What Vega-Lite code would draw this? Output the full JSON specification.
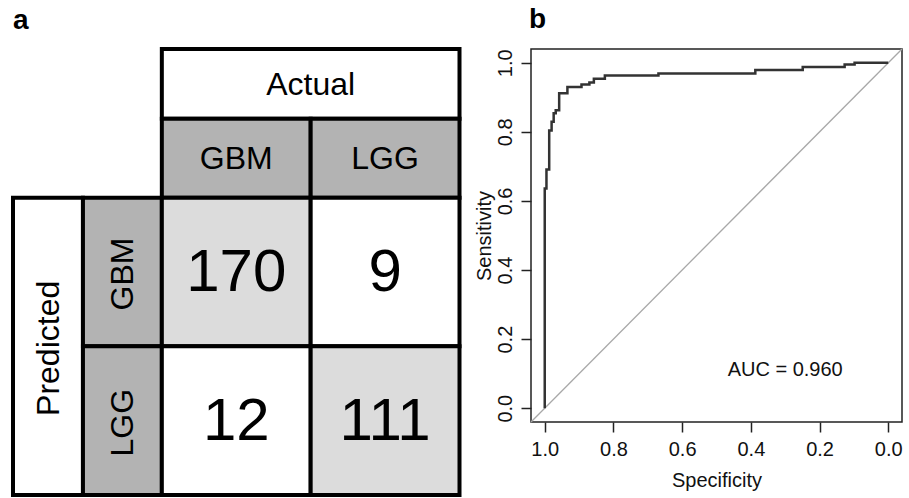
{
  "$schema": "https://vega.github.io/schema/vega-lite/v6.json",
  "padding": {"left": 11, "top": 5, "right": 0, "bottom": 0},
  "spacing": 11,
  "background": "white",
  "config": {
    "font": "Liberation Sans",
    "view": {"stroke": "#222", "strokeWidth": 1.5},
    "axis": {
      "grid": false, "domain": false,
      "labelColor": "#111", "tickColor": "#222", "titleColor": "#111",
      "labelFont": "Liberation Sans", "titleFont": "Liberation Sans",
      "labelFontSize": 20, "titleFontSize": 20, "titleFontWeight": "normal",
      "tickSize": 10, "tickWidth": 1.5, "labelFlush": false, "labelOverlap": false
    },
    "title": {"font": "Liberation Sans", "fontSize": 28, "fontWeight": "bold", "anchor": "start", "color": "#000", "frame": "group"}
  },
  "datasets": {
    "table": [
      {"id": "actual", "side": "actual", "role": "title", "label": "Actual", "c0": 1, "c1": 3, "r0": 0, "r1": 0.47},
      {"id": "act_gbm", "side": "actual", "role": "header", "label": "GBM", "c0": 1, "c1": 2, "r0": 0.47, "r1": 1},
      {"id": "act_lgg", "side": "actual", "role": "header", "label": "LGG", "c0": 2, "c1": 3, "r0": 0.47, "r1": 1},
      {"id": "predicted", "side": "predicted", "role": "title", "label": "Predicted", "c0": 0, "c1": 0.47, "r0": 1, "r1": 3},
      {"id": "pred_gbm", "side": "predicted", "role": "header", "label": "GBM", "c0": 0.47, "c1": 1, "r0": 1, "r1": 2},
      {"id": "pred_lgg", "side": "predicted", "role": "header", "label": "LGG", "c0": 0.47, "c1": 1, "r0": 2, "r1": 3},
      {"id": "gbm_gbm", "side": "cell", "role": "hit", "predicted": "GBM", "actual": "GBM", "n": 170, "c0": 1, "c1": 2, "r0": 1, "r1": 2},
      {"id": "gbm_lgg", "side": "cell", "role": "miss", "predicted": "GBM", "actual": "LGG", "n": 9, "c0": 2, "c1": 3, "r0": 1, "r1": 2},
      {"id": "lgg_gbm", "side": "cell", "role": "miss", "predicted": "LGG", "actual": "GBM", "n": 12, "c0": 1, "c1": 2, "r0": 2, "r1": 3},
      {"id": "lgg_lgg", "side": "cell", "role": "hit", "predicted": "LGG", "actual": "LGG", "n": 111, "c0": 2, "c1": 3, "r0": 2, "r1": 3}
    ],
    "roc": [
      {"i": 0, "specificity": 1.0, "sensitivity": 0.0},
      {"i": 1, "specificity": 1.0, "sensitivity": 0.636},
      {"i": 2, "specificity": 0.995, "sensitivity": 0.636},
      {"i": 3, "specificity": 0.995, "sensitivity": 0.691},
      {"i": 4, "specificity": 0.987, "sensitivity": 0.691},
      {"i": 5, "specificity": 0.987, "sensitivity": 0.804},
      {"i": 6, "specificity": 0.980, "sensitivity": 0.804},
      {"i": 7, "specificity": 0.980, "sensitivity": 0.829},
      {"i": 8, "specificity": 0.974, "sensitivity": 0.829},
      {"i": 9, "specificity": 0.974, "sensitivity": 0.854},
      {"i": 10, "specificity": 0.968, "sensitivity": 0.854},
      {"i": 11, "specificity": 0.968, "sensitivity": 0.863},
      {"i": 12, "specificity": 0.958, "sensitivity": 0.863},
      {"i": 13, "specificity": 0.958, "sensitivity": 0.912},
      {"i": 14, "specificity": 0.934, "sensitivity": 0.912},
      {"i": 15, "specificity": 0.934, "sensitivity": 0.930},
      {"i": 16, "specificity": 0.893, "sensitivity": 0.930},
      {"i": 17, "specificity": 0.893, "sensitivity": 0.937},
      {"i": 18, "specificity": 0.870, "sensitivity": 0.937},
      {"i": 19, "specificity": 0.870, "sensitivity": 0.943},
      {"i": 20, "specificity": 0.857, "sensitivity": 0.943},
      {"i": 21, "specificity": 0.857, "sensitivity": 0.954},
      {"i": 22, "specificity": 0.825, "sensitivity": 0.954},
      {"i": 23, "specificity": 0.825, "sensitivity": 0.963},
      {"i": 24, "specificity": 0.669, "sensitivity": 0.963},
      {"i": 25, "specificity": 0.669, "sensitivity": 0.969},
      {"i": 26, "specificity": 0.387, "sensitivity": 0.969},
      {"i": 27, "specificity": 0.387, "sensitivity": 0.979},
      {"i": 28, "specificity": 0.249, "sensitivity": 0.979},
      {"i": 29, "specificity": 0.249, "sensitivity": 0.988},
      {"i": 30, "specificity": 0.127, "sensitivity": 0.988},
      {"i": 31, "specificity": 0.127, "sensitivity": 0.995},
      {"i": 32, "specificity": 0.098, "sensitivity": 0.995},
      {"i": 33, "specificity": 0.098, "sensitivity": 1.0},
      {"i": 34, "specificity": 0.0, "sensitivity": 1.0}
    ],
    "diag": [
      {"specificity": 1.04, "sensitivity": -0.04},
      {"specificity": -0.04, "sensitivity": 1.04}
    ],
    "auc": [
      {"specificity": 0.3, "sensitivity": 0.11, "label": "AUC = 0.960"}
    ]
  },
  "hconcat": [
    {
      "width": 446.5,
      "height": 446,
      "view": {"stroke": null},
      "title": {"text": "a", "offset": -10, "baseline": "alphabetic"},
      "data": {"name": "table"},
      "layer": [
        {
          "mark": {"type": "rect", "stroke": "#000", "strokeWidth": 4},
          "encoding": {
            "x": {"field": "c0", "type": "quantitative", "scale": {"domain": [0, 3], "nice": false, "zero": false}, "axis": null},
            "x2": {"field": "c1"},
            "y": {"field": "r0", "type": "quantitative", "scale": {"domain": [0, 3], "reverse": true, "nice": false, "zero": false}, "axis": null},
            "y2": {"field": "r1"},
            "color": {"field": "role", "type": "nominal", "scale": {"domain": ["title", "header", "hit", "miss"], "range": ["#ffffff", "#b3b3b3", "#dcdcdc", "#ffffff"]}, "legend": null}
          }
        },
        {
          "transform": [
            {"filter": "datum.side === 'actual'"},
            {"fold": ["c0", "c1"], "as": ["ek", "ex"]},
            {"fold": ["r0", "r1"], "as": ["fk", "fy"]}
          ],
          "mark": {"type": "text", "fontSize": 32, "color": "#000", "align": "center", "baseline": "middle", "dy": 1},
          "encoding": {
            "x": {"aggregate": "mean", "field": "ex", "type": "quantitative"},
            "y": {"aggregate": "mean", "field": "fy", "type": "quantitative"},
            "text": {"field": "label"},
            "detail": {"field": "id"}
          }
        },
        {
          "transform": [
            {"filter": "datum.side === 'predicted'"},
            {"fold": ["c0", "c1"], "as": ["ek", "ex"]},
            {"fold": ["r0", "r1"], "as": ["fk", "fy"]}
          ],
          "mark": {"type": "text", "fontSize": 32, "color": "#000", "align": "center", "baseline": "middle", "angle": 270, "dx": -2, "dy": 1},
          "encoding": {
            "x": {"aggregate": "mean", "field": "ex", "type": "quantitative"},
            "y": {"aggregate": "mean", "field": "fy", "type": "quantitative"},
            "text": {"field": "label"},
            "detail": {"field": "id"}
          }
        },
        {
          "transform": [
            {"filter": "datum.side === 'cell'"},
            {"fold": ["c0", "c1"], "as": ["ek", "ex"]},
            {"fold": ["r0", "r1"], "as": ["fk", "fy"]}
          ],
          "mark": {"type": "text", "fontSize": 60, "color": "#000", "align": "center", "baseline": "middle", "dy": 1},
          "encoding": {
            "x": {"aggregate": "mean", "field": "ex", "type": "quantitative"},
            "y": {"aggregate": "mean", "field": "fy", "type": "quantitative"},
            "text": {"field": "n", "type": "quantitative"},
            "detail": {"field": "id"}
          }
        }
      ]
    },
    {
      "width": 371,
      "height": 373,
      "title": {"text": "b", "offset": -10, "baseline": "alphabetic", "dx": -2},
      "encoding": {
        "x": {
          "field": "specificity", "type": "quantitative",
          "scale": {"domain": [-0.04, 1.04], "reverse": true, "nice": false, "zero": false},
          "axis": {"values": [0, 0.2, 0.4, 0.6, 0.8, 1], "format": ".1f", "title": "Specificity", "labelPadding": 7, "titlePadding": 11}
        },
        "y": {
          "field": "sensitivity", "type": "quantitative",
          "scale": {"domain": [-0.04, 1.04], "nice": false, "zero": false},
          "axis": {"values": [0, 0.2, 0.4, 0.6, 0.8, 1], "format": ".1f", "title": "Sensitivity", "labelAngle": -90, "labelAlign": "center", "labelBaseline": "alphabetic", "labelPadding": 10, "titleBaseline": "alphabetic", "titlePadding": 5}
        }
      },
      "layer": [
        {
          "data": {"name": "diag"},
          "mark": {"type": "line", "color": "#a8a8a8", "strokeWidth": 1.3}
        },
        {
          "data": {"name": "roc"},
          "mark": {"type": "line", "color": "#333333", "strokeWidth": 2.5},
          "encoding": {"order": {"field": "i", "type": "quantitative"}}
        },
        {
          "data": {"name": "auc"},
          "mark": {"type": "text", "fontSize": 20, "color": "#111", "align": "center", "baseline": "middle"},
          "encoding": {"text": {"field": "label"}}
        }
      ]
    }
  ]
}
